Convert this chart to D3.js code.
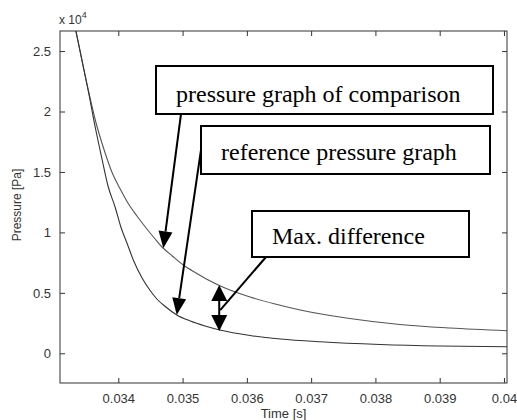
<!DOCTYPE html>
<html><head><meta charset="utf-8">
<script src="https://cdn.jsdelivr.net/npm/d3@7"></script>
<style>
html,body{margin:0;padding:0;background:#fff;}
svg{display:block;}
</style></head>
<body>
<svg id="chart" width="517" height="420"></svg>
<script>
// ---- data ----
const refTime  = [0.03332, 0.03334, 0.03353, 0.03365, 0.03375, 0.03384, 0.03395, 0.03404, 0.03414, 0.03424, 0.03437, 0.03449, 0.03460, 0.03474, 0.03491, 0.03512, 0.03535, 0.03558, 0.03605, 0.03652, 0.03714, 0.03807, 0.03900, 0.04005];
const refPress = [27155, 26659, 21779, 18470, 15989, 13838, 12101, 10447, 9041, 7634, 6228, 5236, 4491, 3829, 3168, 2671, 2258, 1927, 1472, 1183, 951, 728, 603, 546];
const cmpTime  = [0.03332, 0.03334, 0.03353, 0.03365, 0.03378, 0.03390, 0.03403, 0.03415, 0.03429, 0.03442, 0.03456, 0.03468, 0.03484, 0.03501, 0.03521, 0.03540, 0.03566, 0.03605, 0.03644, 0.03683, 0.03760, 0.03838, 0.03916, 0.04005];
const cmpPress = [27155, 26659, 21861, 19132, 16816, 14996, 13590, 12432, 11357, 10447, 9537, 8792, 8048, 7303, 6642, 6063, 5401, 4657, 4078, 3581, 2878, 2382, 2092, 1869];
const xTicks = [0.034, 0.035, 0.036, 0.037, 0.038, 0.039, 0.04];
const xTickLabels = ["0.034", "0.035", "0.036", "0.037", "0.038", "0.039", "0.04"];
const yTicks = [0, 5000, 10000, 15000, 20000, 25000];
const yTickLabels = ["0", "0.5", "1", "1.5", "2", "2.5"];
const xDomain = [0.033093, 0.040047];
const yDomain = [-2457, 26659];
const labels = {x: "Time [s]", y: "Pressure [Pa]", exp: "x 10", expSup: "4"};
const notes = ["pressure graph of comparison", "reference pressure graph", "Max. difference"];
const noteTargets = [[0.0347, 8680], [0.034909, 3167]];
const maxDiff = {t: 0.03557, hi: 5644, lo: 1843};

// ---- layout ----
const svg = d3.select("#chart");
const L = 60, R = 507, T = 31, B = 383;
const x = d3.scaleLinear().domain(xDomain).range([L, R]);
const y = d3.scaleLinear().domain(yDomain).range([B, T]);
const axisCol = "#333";
const font = "'Liberation Sans', Arial, sans-serif";

svg.append("defs").append("clipPath").attr("id", "clip")
  .append("rect").attr("x", L).attr("y", T).attr("width", R - L).attr("height", B - T);

// curves
const line = d3.line().x(d => x(d[0])).y(d => y(d[1])).curve(d3.curveMonotoneX);
const g = svg.append("g").attr("clip-path", "url(#clip)");
g.append("path").datum(cmpTime.map((t, i) => [t, cmpPress[i]]))
  .attr("d", line).attr("fill", "none").attr("stroke", "#555").attr("stroke-width", 1.1);
g.append("path").datum(refTime.map((t, i) => [t, refPress[i]]))
  .attr("d", line).attr("fill", "none").attr("stroke", "#333").attr("stroke-width", 1.1);

// axes
const tickLen = 5;
const xb = svg.append("g").attr("transform", `translate(0,${B})`)
  .call(d3.axisBottom(x).tickValues(xTicks).tickFormat((d, i) => xTickLabels[i]).tickSizeInner(-tickLen).tickSizeOuter(0).tickPadding(11));
const xt = svg.append("g").attr("transform", `translate(0,${T})`)
  .call(d3.axisTop(x).tickValues(xTicks).tickFormat("").tickSizeInner(-tickLen).tickSizeOuter(0));
const yl = svg.append("g").attr("transform", `translate(${L},0)`)
  .call(d3.axisLeft(y).tickValues(yTicks).tickFormat((d, i) => yTickLabels[i]).tickSizeInner(-tickLen).tickSizeOuter(0).tickPadding(9));
const yr = svg.append("g").attr("transform", `translate(${R},0)`)
  .call(d3.axisRight(y).tickValues(yTicks).tickFormat("").tickSizeInner(-tickLen).tickSizeOuter(0));
[xb, xt, yl, yr].forEach(a => {
  a.select(".domain").remove();
  a.selectAll("line").attr("stroke", axisCol);
  a.selectAll("text").attr("font-family", font).attr("font-size", 13).attr("fill", "#333");
});
svg.append("rect").attr("x", L).attr("y", T).attr("width", R - L).attr("height", B - T)
  .attr("fill", "none").attr("stroke", axisCol).attr("stroke-width", 1);

// labels
svg.append("text").attr("x", (L + R) / 2).attr("y", 418).attr("text-anchor", "middle")
  .attr("font-family", font).attr("font-size", 13).attr("fill", "#333").text(labels.x);
svg.append("text").attr("transform", `translate(21,${(T + B) / 2 - 2}) rotate(-90)`).attr("text-anchor", "middle")
  .attr("font-family", font).attr("font-size", 12).attr("fill", "#333").text(labels.y);
const ex = svg.append("text").attr("x", 59).attr("y", 24).attr("font-family", font).attr("font-size", 12).attr("fill", "#333");
ex.append("tspan").text(labels.exp);
ex.append("tspan").attr("dy", -6).attr("font-size", 9).text(labels.expSup);

// annotation helpers
function arrowHead(tx, ty, fx, fy, len, wid) {
  const a = Math.atan2(ty - fy, tx - fx);
  const bx = tx - len * Math.cos(a), by = ty - len * Math.sin(a);
  const px = -Math.sin(a) * wid / 2, py = Math.cos(a) * wid / 2;
  svg.append("path").attr("d", `M${tx},${ty}L${bx + px},${by + py}L${bx - px},${by - py}Z`).attr("fill", "#000");
  return [bx, by];
}
function arrow(fx, fy, tx, ty) {
  const [bx, by] = arrowHead(tx, ty, fx, fy, 17, 14);
  svg.append("line").attr("x1", fx).attr("y1", fy).attr("x2", bx).attr("y2", by)
    .attr("stroke", "#000").attr("stroke-width", 2);
}
function box(x0, y0, w, h, txt, base) {
  svg.append("rect").attr("x", x0).attr("y", y0).attr("width", w).attr("height", h)
    .attr("fill", "#fff").attr("stroke", "#000").attr("stroke-width", 2);
  svg.append("text").attr("x", x0 + 20).attr("y", y0 + base)
    .attr("font-family", "'Liberation Serif', 'Times New Roman', serif").attr("font-size", 24).attr("fill", "#000").text(txt);
}

// arrows first, then boxes
arrow(181, 114, x(noteTargets[0][0]), y(noteTargets[0][1]));
arrow(201, 150, x(noteTargets[1][0]), y(noteTargets[1][1]));
const mx = x(maxDiff.t), yHi = y(maxDiff.hi), yLo = y(maxDiff.lo);
svg.append("line").attr("x1", mx).attr("y1", yHi + 14).attr("x2", mx).attr("y2", yLo - 14).attr("stroke", "#000").attr("stroke-width", 2);
arrowHead(mx, yHi, mx, yLo, 16, 16);
arrowHead(mx, yLo, mx, yHi, 16, 16);
svg.append("line").attr("x1", 266).attr("y1", 257).attr("x2", mx + 1).attr("y2", (yHi + yLo) / 2 + 2)
  .attr("stroke", "#000").attr("stroke-width", 2);

box(156, 66, 337, 48, notes[0], 35.5);
box(201, 126, 289, 48, notes[1], 33.5);
box(252, 211, 217, 46, notes[2], 32.5);
</script>
</body></html>
